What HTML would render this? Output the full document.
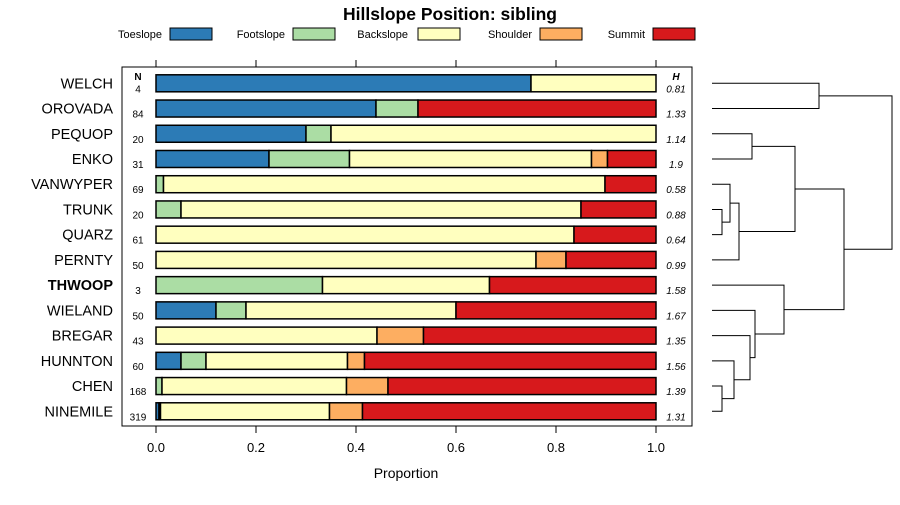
<!DOCTYPE html>
<html><head><meta charset="utf-8"><style>
body{margin:0;background:#fff;}
svg{font-family:"Liberation Sans",sans-serif;}
</style></head><body>
<svg id="c" width="900" height="500"></svg>
<script>
const sites=["WELCH","OROVADA","PEQUOP","ENKO","VANWYPER","TRUNK","QUARZ","PERNTY","THWOOP","WIELAND","BREGAR","HUNNTON","CHEN","NINEMILE"];
const nVals=[4,84,20,31,69,20,61,50,3,50,43,60,168,319];
const hVals=["0.81","1.33","1.14","1.9","0.58","0.88","0.64","0.99","1.58","1.67","1.35","1.56","1.39","1.31"];
const classes=["Toeslope","Footslope","Backslope","Shoulder","Summit"];
const colors=["#2c7bb6","#abdda4","#ffffbf","#fdae61","#d7191c"];
const toe=[0.75,0.44,0.30,0.226,0,0,0,0,0,0.12,0,0.05,0,0.006];
const foot=[0,0.084,0.05,0.161,0.015,0.05,0,0,0.333,0.06,0,0.05,0.012,0.003];
const back=[0.25,0,0.65,0.484,0.883,0.80,0.836,0.76,0.334,0.42,0.442,0.283,0.369,0.338];
const shoulder=[0,0,0,0.032,0,0,0,0.06,0,0,0.093,0.034,0.083,0.066];
const summit=[0,0.476,0,0.097,0.102,0.15,0.164,0.18,0.333,0.40,0.465,0.583,0.536,0.587];
const xTicks=[0,0.2,0.4,0.6,0.8,1.0];
const xTickLabels=["0.0","0.2","0.4","0.6","0.8","1.0"];
// dendrogram merges: [left, right, height]; ids <0 leaves (-(i+1)), >=0 merge index
const merges=[[-1,-2,0.535],[-3,-4,0.20],[-6,-7,0.05],[-5,2,0.09],[-8,3,0.135],[1,4,0.415],[-13,-14,0.05],[-12,6,0.11],[-11,7,0.19],[-10,8,0.215],[-9,9,0.36],[5,10,0.66],[0,11,0.90]];

const svg=document.getElementById('c');
const NS="http://www.w3.org/2000/svg";
function mk(t,a,p){const e=document.createElementNS(NS,t);for(const k in a)e.setAttribute(k,a[k]);(p||svg).appendChild(e);return e;}
const X=v=>156+v*500;
const Y=i=>83.3+i*25.23;
const DX=h=>712+h*200;

let t=mk('text',{x:450,y:20,'text-anchor':'middle','font-size':17.5,'font-weight':'bold'});t.textContent="Hillslope Position: sibling";



const legX=[[162,170],[285,293],[408,418],[532,540],[645,653]];
classes.forEach((c,k)=>{
  const g=mk('g',{});
  
  
  const tx=mk('text',{x:legX[k][0],y:38,'text-anchor':'end','font-size':11},g);tx.textContent=c;
  mk('rect',{x:legX[k][1],y:28,width:42,height:12,fill:colors[k],stroke:'#000','stroke-width':1},g);
});

const panel=mk('rect',{x:122,y:67,width:570,height:359,fill:'none',stroke:'#000','stroke-width':1});



xTicks.forEach((v,k)=>{
  mk('line',{x1:X(v),x2:X(v),y1:60,y2:67,stroke:'#000'});
  mk('line',{x1:X(v),x2:X(v),y1:426,y2:433,stroke:'#000'});
  const l=mk('text',{x:X(v),y:452,'text-anchor':'middle','font-size':13});l.textContent=xTickLabels[k];
  
  
});
t=mk('text',{x:406,y:478,'text-anchor':'middle','font-size':14});t.textContent="Proportion";



t=mk('text',{x:138,y:80,'text-anchor':'middle','font-size':10,'font-weight':'bold'});t.textContent="N";


t=mk('text',{x:676,y:80,'text-anchor':'middle','font-size':10,'font-weight':'bold','font-style':'italic'});t.textContent="H";



const series=[toe,foot,back,shoulder,summit];
sites.forEach((s,i)=>{
  const y=Y(i);
  const lab=mk('text',{x:113,y:y+5,'text-anchor':'end','font-size':14.5,'font-weight':s==="THWOOP"?'bold':'normal'});lab.textContent=s;
  
  
  const n=mk('text',{x:138,y:y+9,'text-anchor':'middle','font-size':10});n.textContent=nVals[i];
  
  
  const h=mk('text',{x:676,y:y+9,'text-anchor':'middle','font-size':10,'font-style':'italic'});h.textContent=hVals[i];
  
  
  let cum=0;
  series.forEach((arr,k)=>{
    const v=arr[i];
    if(v>0){
      const r=mk('rect',{x:X(cum),y:y-8.5,width:X(cum+v)-X(cum),height:17,fill:colors[k],stroke:'#000','stroke-width':1.5});
      
      
    }
    cum+=v;
  });
});

// dendrogram
const nodeY=[],nodeH=[];
function pos(id){return id<0?[Y(-id-1),0]:[nodeY[id],nodeH[id]];}
merges.forEach((m,j)=>{
  const [ya,ha]=pos(m[0]),[yb,hb]=pos(m[1]);
  const x=DX(m[2]);
  const p=mk('path',{d:`M${DX(ha)},${ya}H${x}V${yb}H${DX(hb)}`,fill:'none',stroke:'#000','stroke-width':1});
  
  
  nodeY[j]=(ya+yb)/2;nodeH[j]=m[2];
});
</script>
</body></html>
